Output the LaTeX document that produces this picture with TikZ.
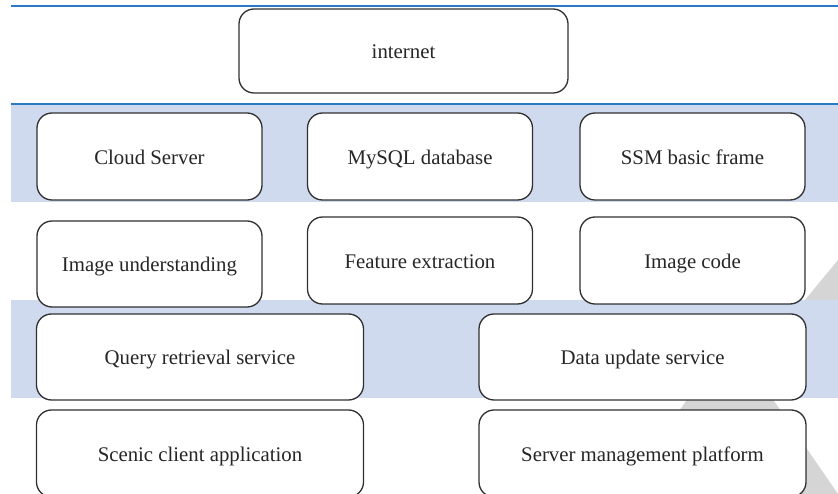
\documentclass[tikz,border=0pt]{standalone}
\usepackage{fontspec}
\setmainfont{Liberation Serif}
\definecolor{bandblue}{HTML}{D0DAEE}
\definecolor{rulecol}{HTML}{2B79C2}
\definecolor{markgrey}{HTML}{D5D5D5}
\definecolor{edgegrey}{HTML}{303030}
\begin{document}
\begin{tikzpicture}[x=1pt,y=-1pt,
  box/.style={draw=edgegrey, line width=1.3pt, fill=white, rounded corners=15pt,
    inner sep=0pt, text height=20pt, text depth=4.5pt,
    font=\fontsize{20.8}{24}\selectfont, text=black!85},
  wide/.style={box, minimum width=225pt, minimum height=87pt},
  wider/.style={box, minimum width=327pt, minimum height=87pt}]
\useasboundingbox (0,0) rectangle (838,494);
\clip (0,0) rectangle (838,494);

% light grey wedges in the background
\fill[markgrey] (800,306) -- (838,260) -- (838,310) -- cycle;
\fill[markgrey] (730,337) -- (622,494) -- (838,494) -- cycle;

% shaded layers
\fill[bandblue] (11,104) rectangle (838,202);
\fill[bandblue] (11,300) rectangle (838,398);

% layer rules
\draw[rulecol, line width=2.4pt] (11,6) -- (838,6);
\draw[rulecol, line width=2.4pt] (11,104) -- (838,104);

% boxes
\node[box, minimum width=329pt, minimum height=84pt] (internet) at (403.5,51) {internet};

\node[wide] (cloud) at (149.5,156.5) {Cloud Server};
\node[wide] (mysql) at (420,156.5) {MySQL database};
\node[wide] (ssm)   at (692.5,156.5) {SSM basic frame};

\node[wide, minimum height=86pt] (imgund) at (149.5,264) {Image understanding};
\node[wide] (feat)    at (420,260.5) {Feature extraction};
\node[wide] (imgcode) at (692.5,260.5) {Image code};

\node[wider, minimum height=86pt] (query)  at (200,357) {Query retrieval service};
\node[wider, minimum height=86pt] (update) at (642.5,357) {Data update service};

\node[wider] (scenic) at (200,453.5) {Scenic client application};
\node[wider] (server) at (642.5,453.5) {Server management platform};
\end{tikzpicture}
\end{document}
